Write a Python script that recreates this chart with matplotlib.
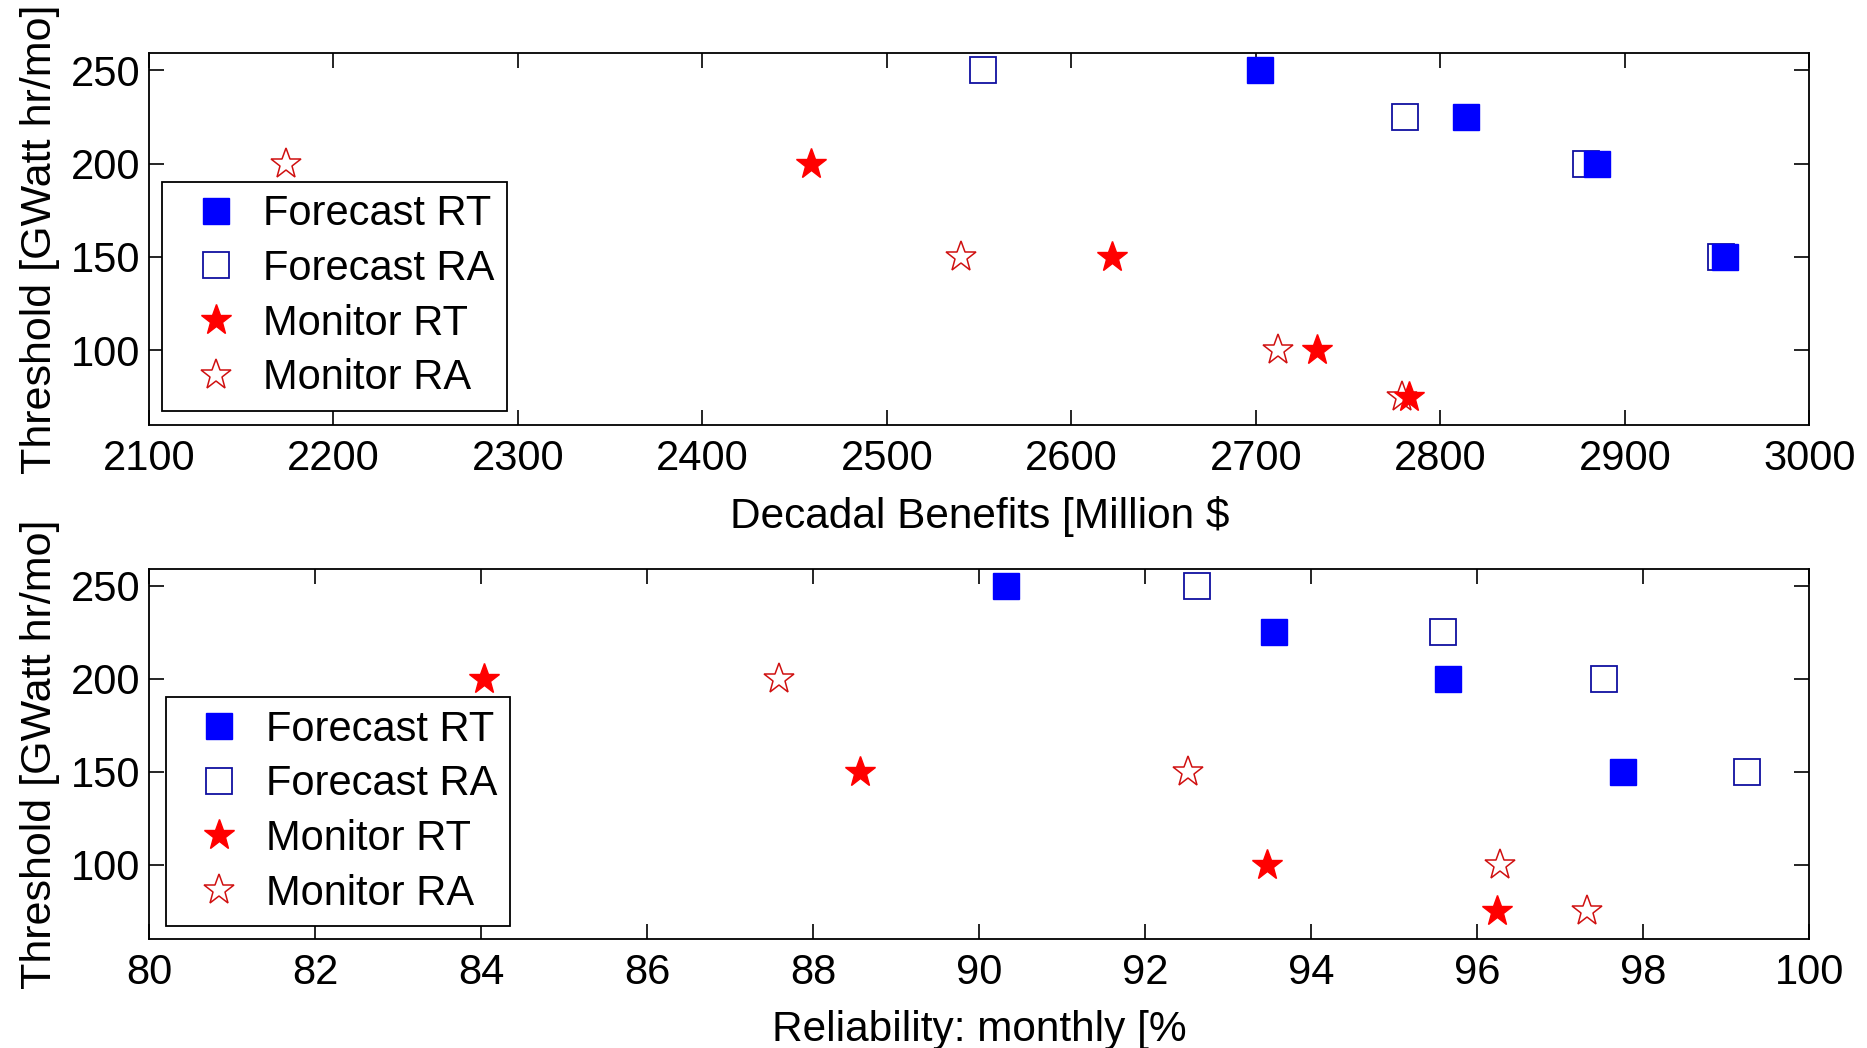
import numpy as np
import matplotlib
matplotlib.use("Agg")
import matplotlib.pyplot as plt

plt.rcParams['font.family'] = ['Liberation Sans', 'DejaVu Sans']

# threshold levels [GWatt hr/mo]
thr_forecast = [250, 225, 200, 150]
thr_monitor = [200, 150, 100, 75]

# decadal benefits [Million $]
ben_forecast_rt = [2702, 2814, 2885, 2954]
ben_forecast_ra = [2552, 2781, 2879, 2952]
ben_monitor_rt = [2459, 2622, 2733, 2783]
ben_monitor_ra = [2174, 2540, 2712, 2779]

# monthly reliability [%]
rel_forecast_rt = [90.32, 93.55, 95.65, 97.75]
rel_forecast_ra = [92.62, 95.58, 97.52, 99.25]
rel_monitor_rt = [84.03, 88.56, 93.46, 96.24]
rel_monitor_ra = [87.59, 92.51, 96.27, 97.32]

FS = 30

fig = plt.figure(figsize=(18.67, 10.48), dpi=100)
ax1 = fig.add_axes([0.0798, 0.5945, 0.8894, 0.3545])
ax2 = fig.add_axes([0.0798, 0.104, 0.8894, 0.353])


def draw(ax, frt, fra, mrt, mra, xlim, xticks, xlabel, legx, legy):
    # filled markers sit on top of the open ones, like the original
    ax.plot(frt, thr_forecast, linestyle='none', marker='s', ms=19,
            mfc='#0000ff', mec='#0000ff', mew=1, label='Forecast RT', zorder=4)
    ax.plot(fra, thr_forecast, linestyle='none', marker='s', ms=19,
            mfc='white', mec='#1010a0', mew=1.3, label='Forecast RA', zorder=3)
    ax.plot(mrt, thr_monitor, linestyle='none', marker='*', ms=23,
            mfc='#ff0000', mec='#ff0000', mew=1, label='Monitor RT', zorder=4)
    ax.plot(mra, thr_monitor, linestyle='none', marker='*', ms=23,
            mfc='white', mec='#d01010', mew=1.1, label='Monitor RA', zorder=3)

    ax.set_xlim(*xlim)
    ax.set_ylim(60, 259)
    ax.set_xticks(xticks)
    ax.set_yticks([100, 150, 200, 250])
    ax.tick_params(direction='in', length=11, width=1.2, top=True, right=True,
                   labelsize=FS)
    ax.tick_params(axis='x', pad=10)
    ax.tick_params(axis='y', pad=6)
    for s in ax.spines.values():
        s.set_linewidth(1.3)
    ax.set_xlabel(xlabel, fontsize=30.5, labelpad=12)
    ax.set_ylabel('Threshold [GWatt hr/mo]', fontsize=31, labelpad=8)

    leg = ax.legend(loc='lower left', bbox_to_anchor=(legx, legy),
                    borderaxespad=0, fontsize=FS, frameon=True, fancybox=False,
                    framealpha=1, edgecolor='black', handlelength=1.96,
                    handletextpad=0.15, borderpad=0.3, labelspacing=0.35,
                    numpoints=1)
    leg.get_frame().set_linewidth(1.3)


draw(ax1, ben_forecast_rt, ben_forecast_ra, ben_monitor_rt, ben_monitor_ra,
     (2100, 3000), np.arange(2100, 3001, 100),
     'Decadal Benefits [Million $', 0.008, 0.0385)
draw(ax2, rel_forecast_rt, rel_forecast_ra, rel_monitor_rt, rel_monitor_ra,
     (80, 100), np.arange(80, 101, 2),
     'Reliability: monthly [%', 0.01, 0.035)

fig.savefig('out.png', dpi=100)
